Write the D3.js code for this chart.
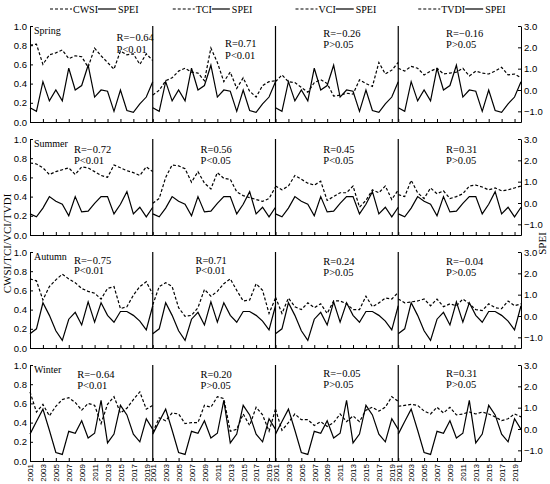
<!DOCTYPE html>
<html>
<head>
<meta charset="utf-8">
<script src="https://cdn.jsdelivr.net/npm/d3@7"></script>
<style>
  body { margin: 0; background: #fff; }
  svg { font-family: "Liberation Serif", "Times New Roman", serif; }
</style>
</head>
<body>
<div id="chart"></div>
<script>
// categories
const years = [2001, 2002, 2003, 2004, 2005, 2006, 2007, 2008, 2009, 2010,
               2011, 2012, 2013, 2014, 2015, 2016, 2017, 2018, 2019, 2020];
const seasons = ["Spring", "Summer", "Autumn", "Winter"];
const indices = ["CWSI", "TCI", "VCI", "TVDI"];

// SPEI per season (right axis units)
const speiSpring = [-0.83, -1.0, 0.39, -0.51, 0.0, -0.51, 1.02, 0.0, 0.21, 1.16, -0.33, 0.0, -0.06, -1.0, 0.0, -0.96, -1.05, -0.65, -0.33, 0.39];
const speiSummer = [-0.51, -0.65, -0.24, 0.30, 0.08, -0.06, -0.60, 0.30, -0.42, -0.38, -0.02, 0.30, 0.30, -0.51, -0.06, 0.53, -0.51, -0.20, -0.65, -0.20];
const speiAutumn = [-0.83, -0.60, 0.62, 0.03, -0.69, -1.14, -0.15, 0.17, -0.42, 0.66, -0.29, 0.62, 0.03, -0.29, 0.21, 0.21, 0.03, -0.24, -0.65, 0.48];
const speiWinter = [-0.24, 0.35, 0.93, -0.06, -1.10, -1.19, -0.11, -0.20, 0.39, -0.42, -0.20, 1.34, -0.65, -0.24, 1.11, 0.66, -0.24, -0.60, 0.48, -0.02];

// drought indices per season (left axis units)
const cwsiSpring = [0.80, 0.81, 0.60, 0.70, 0.72, 0.75, 0.66, 0.69, 0.68, 0.57, 0.77, 0.69, 0.62, 0.55, 0.74, 0.70, 0.71, 0.60, 0.71, 0.64];
const tciSpring  = [0.28, 0.33, 0.43, 0.46, 0.53, 0.56, 0.52, 0.51, 0.43, 0.77, 0.62, 0.42, 0.52, 0.35, 0.46, 0.32, 0.26, 0.38, 0.42, 0.43];
const vciSpring  = [0.42, 0.49, 0.42, 0.41, 0.36, 0.31, 0.41, 0.44, 0.40, 0.27, 0.28, 0.30, 0.29, 0.44, 0.40, 0.37, 0.62, 0.50, 0.54, 0.62];
const tvdiSpring = [0.56, 0.53, 0.58, 0.56, 0.49, 0.53, 0.56, 0.50, 0.51, 0.52, 0.56, 0.48, 0.53, 0.51, 0.50, 0.53, 0.57, 0.49, 0.50, 0.46];

const cwsiSummer = [0.75, 0.74, 0.70, 0.63, 0.66, 0.68, 0.70, 0.63, 0.71, 0.70, 0.66, 0.62, 0.60, 0.73, 0.70, 0.67, 0.65, 0.62, 0.71, 0.66];
const tciSummer  = [0.33, 0.38, 0.60, 0.73, 0.72, 0.69, 0.55, 0.66, 0.54, 0.48, 0.65, 0.59, 0.58, 0.45, 0.41, 0.39, 0.37, 0.35, 0.38, 0.50];
const vciSummer  = [0.51, 0.47, 0.51, 0.62, 0.58, 0.54, 0.52, 0.56, 0.36, 0.40, 0.44, 0.44, 0.51, 0.29, 0.36, 0.47, 0.44, 0.51, 0.37, 0.47];
const tvdiSummer = [0.42, 0.40, 0.57, 0.44, 0.38, 0.49, 0.43, 0.46, 0.38, 0.40, 0.43, 0.51, 0.52, 0.50, 0.47, 0.49, 0.46, 0.47, 0.49, 0.51];

const cwsiAutumn = [0.72, 0.70, 0.50, 0.64, 0.71, 0.77, 0.72, 0.68, 0.62, 0.59, 0.57, 0.51, 0.62, 0.64, 0.41, 0.43, 0.55, 0.64, 0.69, 0.56];
const tciAutumn  = [0.45, 0.64, 0.68, 0.64, 0.42, 0.33, 0.34, 0.42, 0.61, 0.54, 0.59, 0.67, 0.72, 0.60, 0.49, 0.50, 0.67, 0.60, 0.36, 0.52];
const vciAutumn  = [0.53, 0.36, 0.52, 0.43, 0.40, 0.47, 0.42, 0.46, 0.36, 0.49, 0.49, 0.46, 0.40, 0.40, 0.54, 0.43, 0.47, 0.52, 0.51, 0.58];
const tvdiAutumn = [0.51, 0.47, 0.48, 0.49, 0.51, 0.44, 0.51, 0.43, 0.46, 0.44, 0.51, 0.46, 0.40, 0.39, 0.46, 0.42, 0.41, 0.49, 0.44, 0.46];

const cwsiWinter = [0.72, 0.51, 0.59, 0.47, 0.57, 0.64, 0.66, 0.61, 0.53, 0.60, 0.58, 0.39, 0.59, 0.67, 0.50, 0.55, 0.64, 0.72, 0.54, 0.58];
const tciWinter  = [0.30, 0.45, 0.42, 0.50, 0.49, 0.39, 0.40, 0.40, 0.58, 0.56, 0.67, 0.65, 0.31, 0.33, 0.49, 0.37, 0.56, 0.48, 0.31, 0.54];
const vciWinter  = [0.54, 0.32, 0.40, 0.49, 0.43, 0.43, 0.37, 0.41, 0.36, 0.40, 0.49, 0.41, 0.47, 0.41, 0.53, 0.56, 0.52, 0.56, 0.67, 0.62];
const tvdiWinter = [0.57, 0.58, 0.59, 0.58, 0.52, 0.49, 0.56, 0.50, 0.56, 0.48, 0.49, 0.51, 0.49, 0.51, 0.49, 0.46, 0.42, 0.44, 0.49, 0.46];

// correlation labels [season][index]
const rText = [["R=\u22120.64", "R=0.71", "R=\u22120.26", "R=\u22120.16"],
               ["R=\u22120.72", "R=0.56", "R=0.45", "R=0.31"],
               ["R=\u22120.75", "R=0.71", "R=0.24", "R=\u22120.04"],
               ["R=\u22120.64", "R=0.20", "R=\u22120.05", "R=0.31"]];
const pText = [["P<0.01", "P<0.01", "P>0.05", "P>0.05"],
               ["P<0.01", "P<0.05", "P<0.05", "P>0.05"],
               ["P<0.01", "P<0.01", "P>0.05", "P>0.05"],
               ["P<0.01", "P>0.05", "P>0.05", "P>0.05"]];

// ticks
const leftTicks = [0, 0.2, 0.4, 0.6, 0.8, 1.0];
const rightTicks = [-1, 0, 1, 2, 3];
const yearTicks = [2001, 2003, 2005, 2007, 2009, 2011, 2013, 2015, 2017, 2019];

const spei = [speiSpring, speiSummer, speiAutumn, speiWinter];
const idx = [
  [cwsiSpring, tciSpring, vciSpring, tvdiSpring],
  [cwsiSummer, tciSummer, vciSummer, tvdiSummer],
  [cwsiAutumn, tciAutumn, vciAutumn, tvdiAutumn],
  [cwsiWinter, tciWinter, vciWinter, tvdiWinter]
];

const width = 550, height = 484;
const plotLeft = 30, plotRight = 521;
const colW = (plotRight - plotLeft) / 4;
const rowTop0 = 26, rowPitch = 113, rowH = 96;

// where the R / P notes sit: [start year, R value, P value] on left axis
const notePos = [
  [[2014.4, 0.84, 0.72], [2012.2, 0.78, 0.66], [2008.4, 0.89, 0.77], [2008.4, 0.89, 0.77]],
  [[2007.8, 0.85, 0.74], [2008.4, 0.85, 0.74], [2008.4, 0.85, 0.74], [2008.4, 0.85, 0.74]],
  [[2007.8, 0.88, 0.77], [2007.6, 0.88, 0.77], [2008.4, 0.86, 0.75], [2008.4, 0.86, 0.75]],
  [[2008.3, 0.86, 0.75], [2008.4, 0.86, 0.75], [2008.4, 0.87, 0.76], [2008.4, 0.87, 0.76]]
];

const svg = d3.select("#chart").append("svg")
  .attr("width", width)
  .attr("height", height);

const line = (x, y) => d3.line().x((d, i) => x(years[i])).y(d => y(d));

seasons.forEach((season, r) => {
  const top = rowTop0 + r * rowPitch;
  const bottom = top + rowH;
  const yL = d3.scaleLinear().domain([0, 1]).range([bottom, top]);
  const yR = d3.scaleLinear().domain([-1.5, 3]).range([bottom, top]);
  const g = svg.append("g");

  indices.forEach((name, c) => {
    const x0 = plotLeft + c * colW;
    const x = d3.scaleLinear().domain([2001, 2020]).range([x0, x0 + colW]);

    // bottom axis per column, year labels only under the last row
    const ax = g.append("g")
      .attr("transform", `translate(0,${bottom})`)
      .call(d3.axisBottom(x).tickValues(yearTicks).tickSize(-3).tickSizeOuter(0).tickFormat(d3.format("d")));
    if (r === 3) {
      ax.selectAll("text")
        .attr("transform", "rotate(-90)")
        .attr("text-anchor", "end")
        .attr("x", -3)
        .attr("y", 0)
        .attr("dy", "0.35em")
        .style("font-size", "8px");
    } else {
      ax.selectAll("text").remove();
    }

    // column separator
    if (c > 0) {
      g.append("line")
        .attr("x1", x0).attr("x2", x0)
        .attr("y1", top).attr("y2", bottom)
        .attr("stroke", "#000").attr("stroke-width", 1.2);
    }

    g.append("path")
      .datum(idx[r][c])
      .attr("d", line(x, yL))
      .attr("fill", "none")
      .attr("stroke", "#000")
      .attr("stroke-width", 1.2)
      .attr("stroke-dasharray", "3,2");

    g.append("path")
      .datum(spei[r])
      .attr("d", line(x, yR))
      .attr("fill", "none")
      .attr("stroke", "#000")
      .attr("stroke-width", 1.2);

    const [nx, ry, py] = notePos[r][c];
    g.append("text")
      .attr("x", x(nx)).attr("y", yL(ry))
      .style("font-size", "10.5px")
      .text(rText[r][c]);
    g.append("text")
      .attr("x", x(nx)).attr("y", yL(py))
      .style("font-size", "10.5px")
      .text(pText[r][c]);
  });

  // left axis
  g.append("g")
    .attr("transform", `translate(${plotLeft},0)`)
    .call(d3.axisLeft(yL).tickValues(leftTicks).tickSize(-3).tickPadding(3).tickSizeOuter(0).tickFormat(d3.format(".1f")))
    .selectAll("text").style("font-size", "9.5px");

  // right axis
  g.append("g")
    .attr("transform", `translate(${plotRight},0)`)
    .call(d3.axisRight(yR).tickValues(rightTicks).tickSize(-3).tickPadding(3).tickSizeOuter(0).tickFormat(d3.format(".1f")))
    .selectAll("text").style("font-size", "9.5px");

  g.append("text")
    .attr("x", plotLeft + 4)
    .attr("y", top + 8)
    .style("font-size", "10px")
    .text(season);
});

// legend
indices.forEach((name, c) => {
  const lx = plotLeft + c * colW + 20;
  const ly = 9;
  const lg = svg.append("g").attr("transform", `translate(${lx},${ly})`);
  lg.append("line").attr("x1", 0).attr("x2", 22).attr("y1", 0).attr("y2", 0)
    .attr("stroke", "#000").attr("stroke-width", 1.2).attr("stroke-dasharray", "3,2");
  const t1 = lg.append("text").attr("x", 23).attr("y", 3.5)
    .style("font-size", "10px").text(name);
  const w1 = t1.node().getComputedTextLength();
  lg.append("line").attr("x1", 23 + w1).attr("x2", 41 + w1).attr("y1", 0).attr("y2", 0)
    .attr("stroke", "#000").attr("stroke-width", 1.2);
  lg.append("text").attr("x", 43 + w1).attr("y", 3.5)
    .style("font-size", "10px").text("SPEI");
});

// axis titles
const midY = (rowTop0 + rowTop0 + 3 * rowPitch + rowH) / 2;
svg.append("text")
  .attr("transform", `translate(11,${midY}) rotate(-90)`)
  .attr("text-anchor", "middle")
  .style("font-size", "11px")
  .text("CWSI/TCI/VCI/TVDI");

svg.append("text")
  .attr("transform", `translate(546,${midY}) rotate(-90)`)
  .attr("text-anchor", "middle")
  .style("font-size", "11px")
  .text("SPEI");
</script>
</body>
</html>
